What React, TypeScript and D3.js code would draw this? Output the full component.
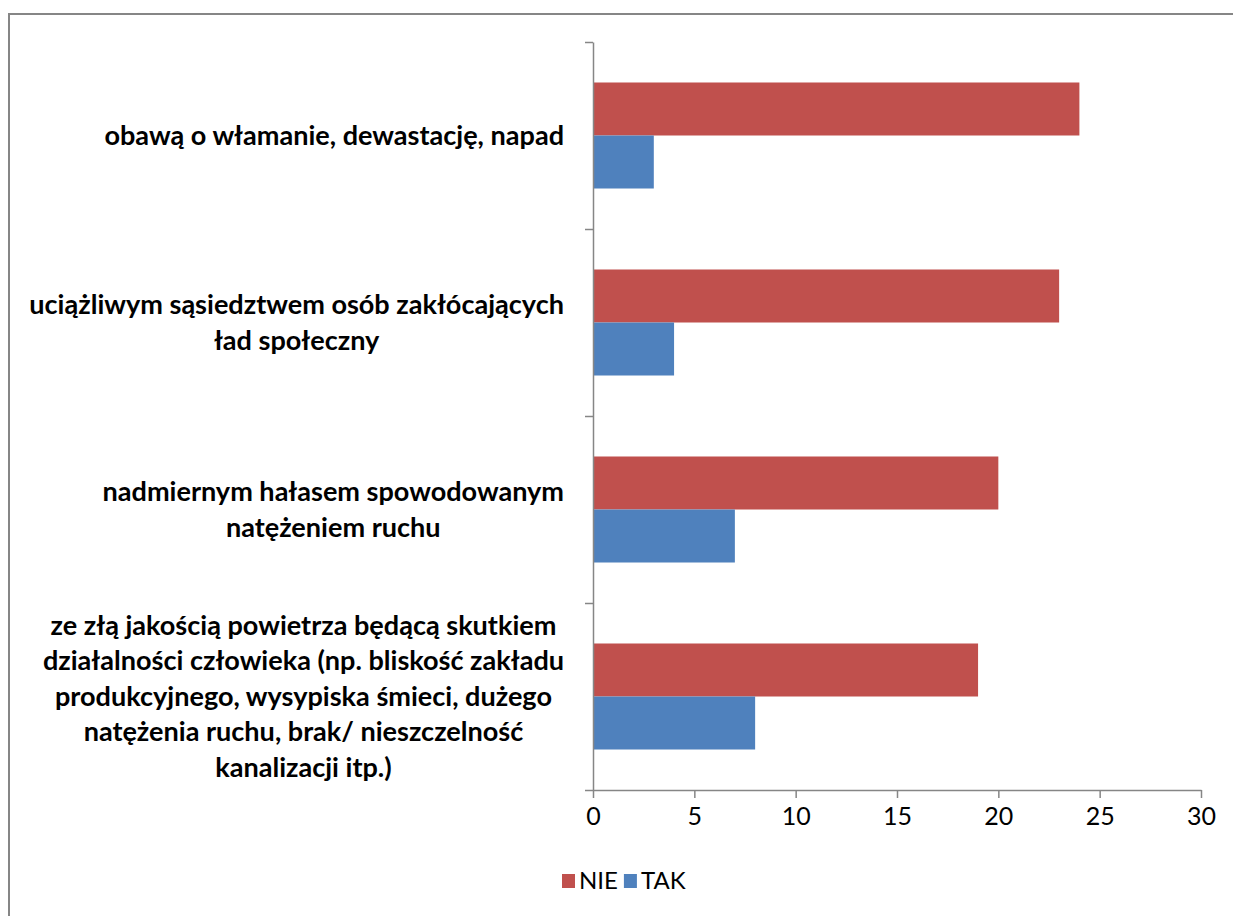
import React, { useEffect, useRef } from 'react';
import * as d3 from 'd3';

const categories: string[][] = [
  ['obawą o włamanie, dewastację, napad'],
  ['uciążliwym sąsiedztwem osób zakłócających', 'ład społeczny'],
  ['nadmiernym hałasem spowodowanym', 'natężeniem ruchu'],
  [
    'ze złą jakością powietrza będącą skutkiem',
    'działalności człowieka (np. bliskość zakładu',
    'produkcyjnego, wysypiska śmieci, dużego',
    'natężenia ruchu, brak/ nieszczelność',
    'kanalizacji itp.)',
  ],
];
const seriesNames = ['NIE', 'TAK'];
const nieValues = [24, 23, 20, 19];
const takValues = [3, 4, 7, 8];
const xTicks = [0, 5, 10, 15, 20, 25, 30];
const seriesColors: Record<string, string> = { NIE: '#C0504D', TAK: '#4F81BD' };

const FONT = 'Lato, "Open Sans", sans-serif';
const AXIS = '#868686';

export default function App() {
  const ref = useRef<SVGSVGElement>(null);
  useEffect(() => {
    const svg = d3.select(ref.current as SVGSVGElement);
    svg.selectAll('*').remove();
    const left = 593, right = 1201, top = 42, bottom = 790;
    const x = d3.scaleLinear().domain([0, 30]).range([left, right]);
    const keys = categories.map((c) => c.join(' '));
    const y = d3.scaleBand().domain(keys).range([top, bottom]);
    const inner = d3.scaleBand().domain(seriesNames).range([0, y.bandwidth()]).paddingInner(0).paddingOuter(0.764);

    // border
    svg.append('rect').attr('x', 9).attr('y', 14).attr('width', 1400).attr('height', 1000)
      .attr('fill', 'none').attr('stroke', AXIS).attr('stroke-width', 2);

    // bars
    const data = keys.map((k, i) => ({ k, NIE: nieValues[i], TAK: takValues[i] }));
    const g = svg.append('g');
    data.forEach((d) => {
      seriesNames.forEach((s) => {
        g.append('rect')
          .attr('x', x(0))
          .attr('y', (y(d.k) as number) + (inner(s) as number))
          .attr('width', x((d as any)[s]) - x(0))
          .attr('height', inner.bandwidth())
          .attr('fill', seriesColors[s]);
      });
    });

    // y axis
    const yb = d3.scaleLinear().domain([0, categories.length]).range([top, bottom]);
    const ya = svg.append('g').attr('transform', `translate(${left},0)`)
      .call(d3.axisLeft(yb).ticks(categories.length).tickFormat(() => '').tickSize(8).tickSizeOuter(0));
    ya.select('.domain').attr('stroke', AXIS).attr('stroke-width', 1.5);
    ya.selectAll('.tick line').attr('stroke', AXIS).attr('stroke-width', 1.5);

    // x axis
    const xa = svg.append('g').attr('transform', `translate(0,${bottom})`)
      .call(d3.axisBottom(x).tickValues(xTicks).tickSize(8).tickSizeOuter(0).tickPadding(9));
    xa.select('.domain').attr('stroke', AXIS).attr('stroke-width', 1.5);
    xa.selectAll('.tick line').attr('stroke', AXIS).attr('stroke-width', 1.5);
    xa.selectAll('.tick text').attr('fill', '#000').style('font-family', FONT).style('font-size', '25px');

    // category labels: fit font size
    const probe = svg.append('text').style('font-family', FONT).style('font-weight', 'bold').style('font-size', '20px')
      .text(categories[1][0]);
    const pw = (probe.node() as SVGTextElement).getComputedTextLength();
    probe.remove();
    const fs = (20 * 535) / pw;
    const lineH = 35.5;
    const labelRight = 564;
    categories.forEach((lines, i) => {
      const cy = (y(keys[i]) as number) + y.bandwidth() / 2;
      const tg = svg.append('g');
      const texts = lines.map((ln) =>
        tg.append('text').style('font-family', FONT).style('font-weight', 'bold').style('font-size', `${fs}px`)
          .attr('fill', '#000').attr('text-anchor', 'middle').text(ln));
      const widths = texts.map((t) => (t.node() as SVGTextElement).getComputedTextLength());
      const maxW = Math.max(...widths);
      const cx = labelRight - maxW / 2;
      texts.forEach((t, j) => {
        const lc = cy + (j - (lines.length - 1) / 2) * lineH;
        t.attr('x', cx).attr('y', lc).attr('dy', '0.35em');
      });
    });

    // legend
    const lg = svg.append('g');
    let lx = 562;
    seriesNames.forEach((s) => {
      lg.append('rect').attr('x', lx).attr('y', 874).attr('width', 13).attr('height', 14).attr('fill', seriesColors[s]);
      const t = lg.append('text').attr('x', lx + 17).attr('y', 881).attr('dy', '0.35em')
        .style('font-family', FONT).style('font-size', '24px').attr('fill', '#000').text(s);
      lx += 17 + (t.node() as SVGTextElement).getComputedTextLength() + 6;
    });
  }, []);
  return (
    <svg ref={ref} width={1233} height={916} style={{ position: 'absolute', left: 0, top: 0, background: '#fff' }} />
  );
}
